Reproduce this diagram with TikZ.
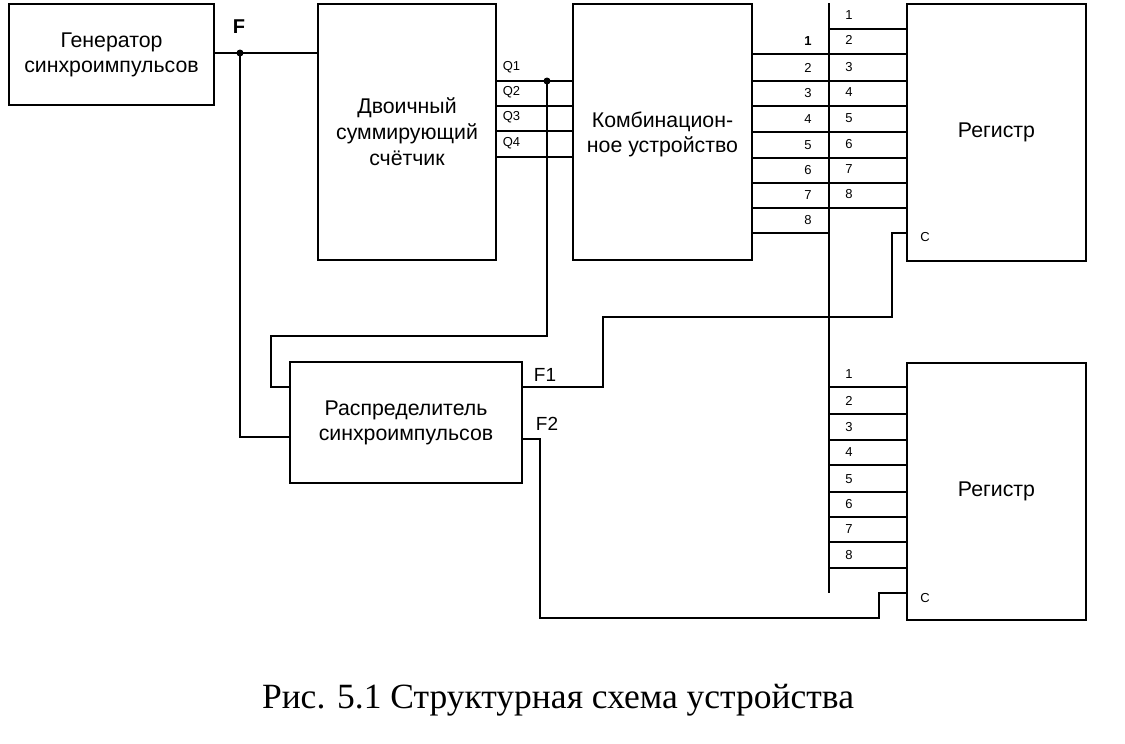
\documentclass[tikz,border=0pt]{standalone}
\usepackage{fontspec}
\setmainfont{Liberation Sans}
\newfontfamily\capfont{Liberation Serif}
\begin{document}
\begin{tikzpicture}[x=1pt,y=-1pt,line width=1.7pt,
  box/.style={draw,inner sep=0pt,align=center,font=\fontsize{21.3}{25}\selectfont},
  small/.style={inner sep=0pt,font=\fontsize{13}{15}\selectfont},
  sig/.style={inner sep=0pt,font=\fontsize{19}{22}\selectfont},
  dot/.style={circle,fill,inner sep=0pt,minimum size=7pt}]
\useasboundingbox (0,0) rectangle (1125,744);
% blocks
\node[box,minimum width=205pt,minimum height=101pt] (gen) at (111.5,54.5) {Генератор\\синхроимпульсов};
\node[box,minimum width=178pt,minimum height=256pt,font=\fontsize{21.3}{26}\selectfont] (cnt) at (407,132) {Двоичный\\суммирующий\\счётчик};
\node[box,minimum width=179pt,minimum height=256pt] (comb) at (662.5,132) {};
\node[inner sep=0pt,align=center,font=\fontsize{21.3}{25}\selectfont] (combtxt) at (662.5,134) {Комбинацион-\\ное устройство};
\node[box,minimum width=179pt,minimum height=257pt] (reg1) at (996.5,132.5) {Регистр};
\node[box,minimum width=179pt,minimum height=257pt] (reg2) at (996.5,491.5) {Регистр};
\node[box,minimum width=232pt,minimum height=121pt] (dist) at (406,422.5) {Распределитель\\синхроимпульсов};
% F line
\coordinate (fdot) at (240,53);
\coordinate (genout) at (214,53);
\coordinate (cntin) at (318,53);
\coordinate (distin2) at (290,437);
\coordinate (distin1) at (290,387);
\draw (genout) -- (cntin);
\draw (fdot) |- (distin2);
\node[dot] (fd) at (fdot) {};
\node[sig,font=\bfseries\fontsize{20}{22}\selectfont] (flab) at (239,27) {F};
% Q outputs
\foreach \y/\q in {81/1,106/2,131/3,157/4}{
  \coordinate (qo\q) at (496,\y);
  \coordinate (qi\q) at (573,\y);
  \draw (qo\q) -- (qi\q);
  \node[small,anchor=west] (ql\q) at (502,\y-14) {Q\q};
}
\coordinate (qdot) at (547,81);
\coordinate (qa) at (547,336);
\coordinate (qb) at (271,336);
\coordinate (qc) at (271,387);
\draw (qdot) -- (qa) -- (qb) -- (qc) -- (distin1);
\node[dot] (qd) at (qdot) {};
% bus
\coordinate (bustop) at (829,3);
\coordinate (busbot) at (829,593);
\draw (bustop) -- (busbot);
\foreach \y [count=\i] in {54,81,106,132,158,183,208,233}{
  \coordinate (cb\i) at (829,\y);
  \draw (comb.east |- cb\i) -- (cb\i);
  \ifnum\i=1
    \node[small,font=\bfseries\fontsize{13}{15}\selectfont] (cl\i) at (808,\y-13) {\i};
  \else
    \node[small] (cl\i) at (808,\y-13) {\i};
  \fi
}
\foreach \y [count=\i] in {29,54,81,106,132,158,183,208}{
  \coordinate (ra\i) at (829,\y);
  \draw (ra\i) -- (reg1.west |- ra\i);
  \node[small] (rl\i) at (849,\y-14) {\i};
}
\foreach \y [count=\i] in {387,414,440,465,492,517,542,568}{
  \coordinate (rb\i) at (829,\y);
  \draw (rb\i) -- (reg2.west |- rb\i);
  \node[small] (sl\i) at (849,\y-13) {\i};
}
% C inputs
\node[small] (c1) at (925,237) {C};
\node[small] (c2) at (925,598) {C};
% F1
\coordinate (f1o) at (522,387);
\coordinate (f1a) at (603,387);
\coordinate (f1b) at (603,317);
\coordinate (f1c) at (892,317);
\coordinate (f1d) at (892,233);
\coordinate (f1e) at (907,233);
\draw (f1o) -- (f1a) -- (f1b) -- (f1c) -- (f1d) -- (f1e);
\node[sig] (f1lab) at (545,375) {F1};
% F2
\coordinate (f2o) at (522,439);
\coordinate (f2a) at (540,439);
\coordinate (f2b) at (540,618);
\coordinate (f2c) at (879,618);
\coordinate (f2d) at (879,593);
\coordinate (f2e) at (907,593);
\draw (f2o) -- (f2a) -- (f2b) -- (f2c) -- (f2d) -- (f2e);
\node[sig] (f2lab) at (547,424) {F2};
% caption
\node[inner sep=0pt,font=\capfont\fontsize{35.5}{40}\selectfont] (cap) at (558,700) {Рис. 5.1 Структурная схема устройства};
\end{tikzpicture}
\end{document}
